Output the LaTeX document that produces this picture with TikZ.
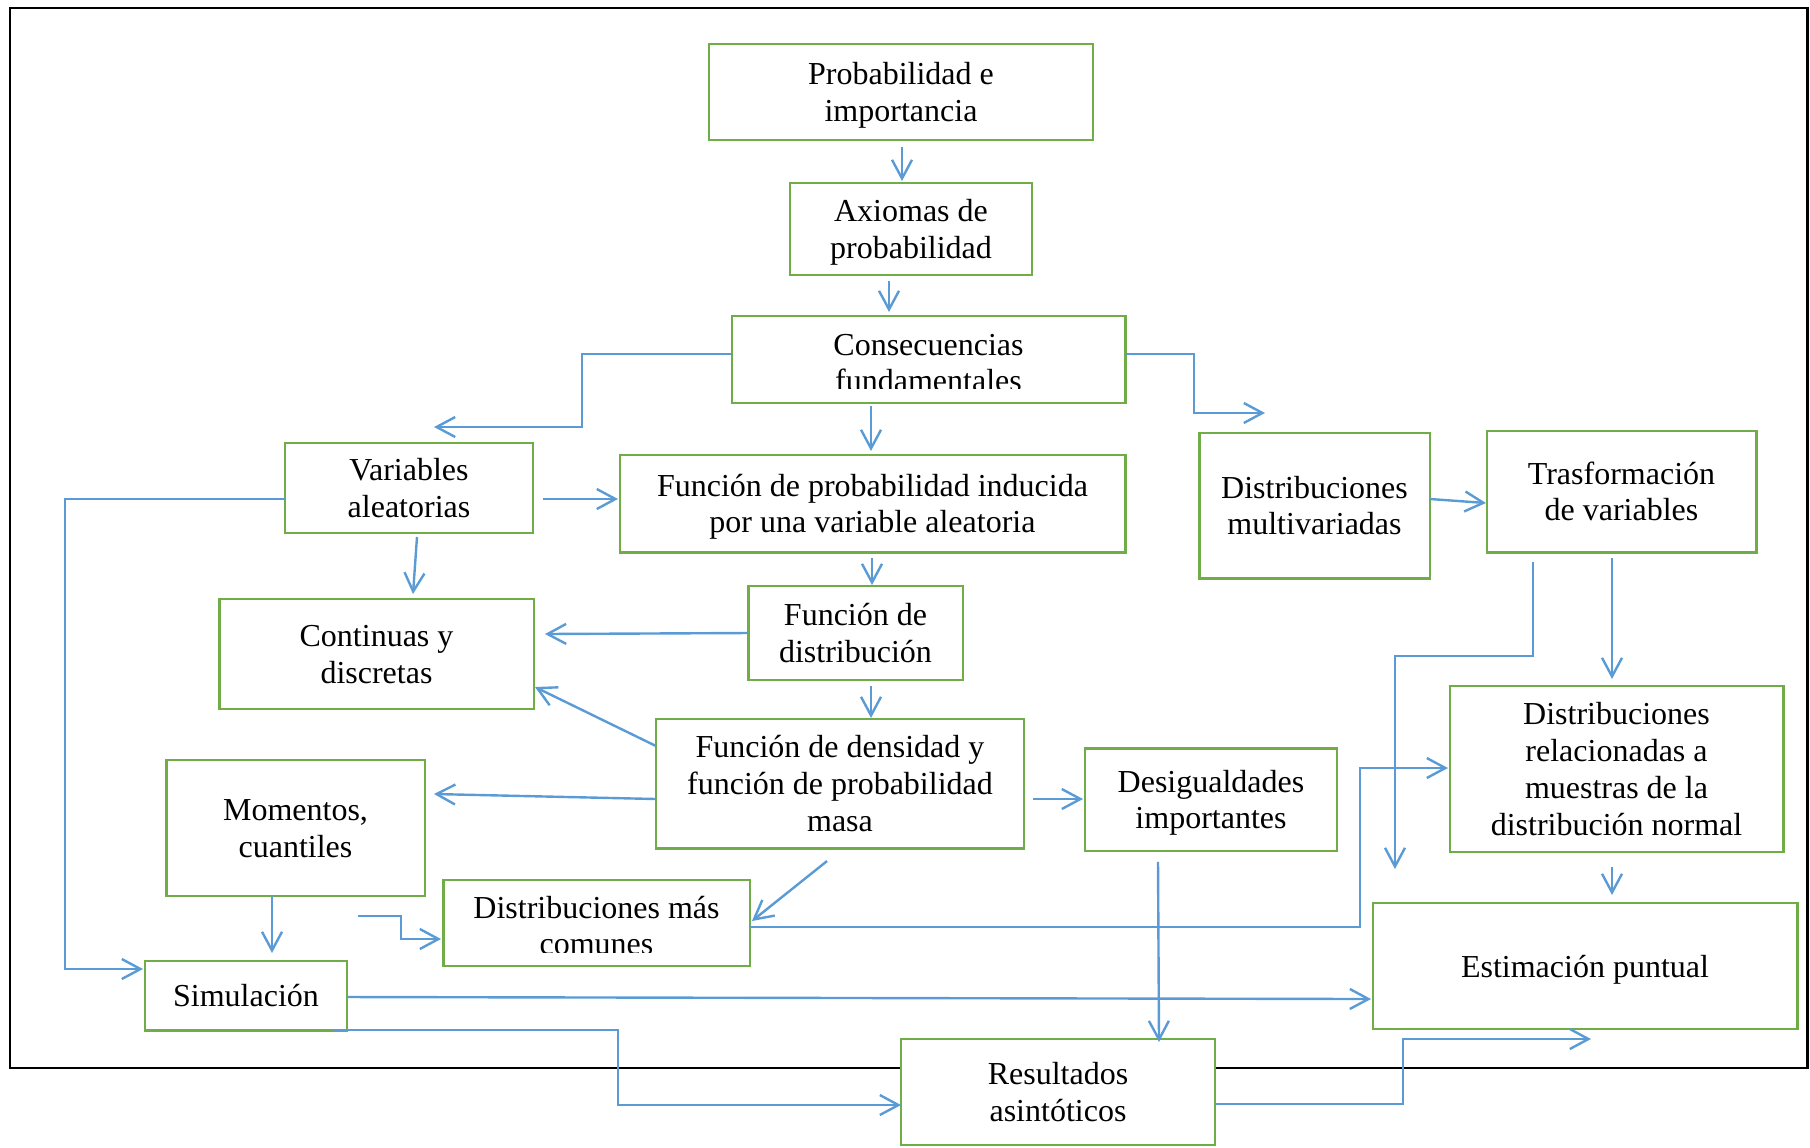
\documentclass[tikz,border=0pt]{standalone}
\usepackage{fontspec}
\setmainfont{Liberation Serif}
\usetikzlibrary{arrows.meta,calc}
\definecolor{boxgreen}{RGB}{112,173,71}
\definecolor{linkblue}{RGB}{91,155,213}
\tikzset{
	box/.style={draw=boxgreen, line width=1.1pt, fill=white, align=flush center, inner sep=0pt, outer sep=0pt,
		font=\fontsize{12pt}{13.8pt}\selectfont,
		execute at begin node={\rule{0pt}{12.4pt}}, execute at end node={\strut}},
	arrowline/.style={draw=linkblue, line width=0.9pt, -{Straight Barb[length=7pt,width=7.5pt]}},
	pageframe/.style={draw=black, line width=1.1pt}
}

\begin{document}
\begin{tikzpicture}
			\begin{scope}[x={0.375pt},y={-0.375pt}]
				% 1 unit = 1 pixel of the page, y going down
				\useasboundingbox (0,0) rectangle (1810,1147);

				\draw[pageframe] (10,8) rectangle (1807,1068); % page frame

				\node[box, text width=144pt, minimum height=36pt] (prob) at (901,92) {Probabilidad e\\importancia};
				\node[box, text width=90.75pt, minimum height=34.5pt] (axio) at (911,229) {Axiomas de\\probabilidad};
				\node[box, text width=147.4pt, minimum height=32.6pt, execute at begin node={\rule{0pt}{14.7pt}}] (cons) at (928.5,359.5) {Consecuencias\\fundamentales};
				\node[box, text width=93pt, minimum height=33.75pt] (vara) at (409,488) {Variables\\aleatorias};
				\node[box, text width=189.4pt, minimum height=36.4pt] (finduc) at (872.5,503.5) {Función de probabilidad inducida\\por una variable aleatoria};
				\node[box, text width=86.6pt, minimum height=54.4pt] (multi) at (1314.5,505.5) {Distribuciones\\multivariadas};
				\node[box, text width=100.9pt, minimum height=45.4pt] (trasf) at (1621.5,491.5) {Trasformación\\de variables};
				\node[box, text width=118.1pt, minimum height=41.25pt, execute at begin node={}] (cont) at (376.5,654) {Continuas y\\discretas};
				\node[box, text width=80.6pt, minimum height=35.25pt] (fdist) at (855.5,633) {Función de\\distribución};
				\node[box, text width=138pt, minimum height=48.4pt] (dens) at (840,783.5) {Función de densidad y\\función de probabilidad\\masa};
				\node[box, text width=97.1pt, minimum height=51pt] (mom) at (295.5,828) {Momentos,\\cuantiles};
				\node[box, text width=94.5pt, minimum height=38.6pt] (desig) at (1211,799.5) {Desigualdades\\importantes};
				\node[box, text width=124.9pt, minimum height=62.25pt] (rel) at (1616.5,769) {Distribuciones\\relacionadas a\\muestras de la\\distribución normal};
				\node[box, text width=115.1pt, minimum height=32.25pt, execute at begin node={\rule{0pt}{14.3pt}}] (dmc) at (596.5,923) {Distribuciones más\\comunes};
				\node[box, text width=75.75pt, minimum height=25.9pt] (sim) at (246,995.5) {Simulación};
				\node[box, text width=159pt, minimum height=47.25pt] (est) at (1585,966) {Estimación puntual};
				\node[box, text width=117.75pt, minimum height=39.75pt] (res) at (1058,1092) {Resultados\\asintóticos};

				\fill[white] ($(cons.south west)+(2,-14)$) rectangle ($(cons.south east)+(-2,-1.5)$); % cut text
				\fill[white] ($(dmc.south west)+(2,-13)$) rectangle ($(dmc.south east)+(-2,-1.5)$); % cut text

				\draw[arrowline] ($(prob.south)+(1,7)$) -- ($(axio.north)+(-9,-2)$);
				\draw[arrowline] ($(axio.south)+(-22,6)$) -- ($(cons.north)+(-39.5,-4)$);
				\draw[arrowline] ($(cons.west)+(0,-5.5)$) -- ++(-150,0) |- ($(vara.north)+(25,-16)$); % to the left
				\draw[arrowline] ($(cons.east)+(0,-5.5)$) -- ++(69,0) |- ($(multi.north)+(-49.5,-20)$); % to the right
				\draw[arrowline] ($(cons.south)+(-57.5,3)$) -- ($(finduc.north)+(-1.5,-4)$);
				\draw[arrowline] ($(vara.east)+(10,11)$) -- ($(finduc.west)+(-2,-4.5)$);
				\draw[arrowline] ($(vara.west)+(0,11)$) -- ++(-220,0) |- ($(sim.west)+(-2,-26.5)$); % long left line
				\draw[arrowline] ($(vara.south)+(8,4)$) -- ($(cont.north)+(36.5,-5)$);
				\draw[arrowline] ($(multi.east)+(0,-6.5)$) -- ($(trasf.west)+(-1,11.5)$);
				\draw[arrowline] ($(trasf.south)+(-88.5,10)$) -- ++(0,94) -| ($(rel.west)+(-55,100)$);
				\draw[arrowline] ($(trasf.south)+(-9.5,6)$) -- ($(rel.north)+(-4.5,-7)$);
				\draw[arrowline] ($(finduc.south)+(-0.5,6)$) -- ($(fdist.north)+(16.5,-1)$);
				\draw[arrowline] (fdist.west) -- ($(cont.east)+(11,-20)$);
				\draw[arrowline] ($(fdist.south)+(15.5,6)$) -- ($(dens.north)+(31,-1)$);
				\draw[arrowline] ($(dens.west)+(0,-37.5)$) -- ($(cont.east)+(1,33)$);
				\draw[arrowline] ($(dens.west)+(0,15.5)$) -- ($(mom.east)+(9,-34)$);
				\draw[arrowline] ($(dens.east)+(9,15.5)$) -- ($(desig.west)+(-2,-0.5)$);
				\draw[arrowline] ($(dens.south)+(-13,13)$) -- ($(dmc.east)+(2,-2)$);
				\draw[arrowline] ($(dmc.east)+(0,4)$) -- ++(610,0) |- ($(rel.west)+(-2,-1)$);
				\draw[arrowline] ($(mom.south)+(-23.5,0)$) -- ($(sim.north)+(26,-8)$);
				\coordinate (dfree) at ($(mom.south east)+(-67,20)$); % loose start
				\draw[arrowline] (dfree) -- ++(43,0) |- ($(dmc.west)+(-2,16)$);
				\draw[arrowline] ($(desig.south)+(-53,11)$) -- ($(res.north)+(101,3)$);
				\draw[arrowline] ($(sim.east)+(0,1.5)$) -- ($(est.west)+(-2,33)$);
				\draw[arrowline] ($(sim.south east)+(-13,0)$) -- ++(284,0) |- ($(res.west)+(0,13)$);
				\draw[arrowline] ($(res.east)+(0,12)$) -- ++(188,0) |- ($(est.south)+(6,10)$); % loose end
				\draw[arrowline] ($(rel.south)+(-4.5,15)$) -- ($(est.north)+(27,-8)$);
			\end{scope}
		\end{tikzpicture}
\end{document}
